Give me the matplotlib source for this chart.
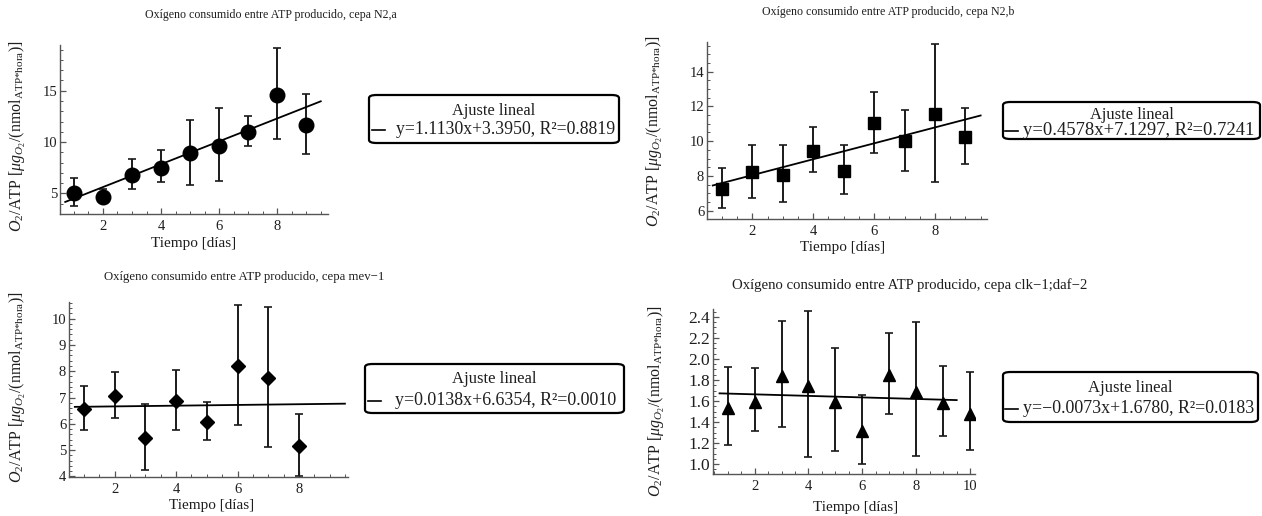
import numpy as np
import matplotlib
matplotlib.use("Agg")
import matplotlib.pyplot as plt
from matplotlib.ticker import MultipleLocator, FormatStrFormatter
from matplotlib.patches import FancyBboxPatch
from matplotlib.lines import Line2D

plt.rcParams['font.family'] = ['Liberation Serif', 'DejaVu Serif']
plt.rcParams['mathtext.fontset'] = 'custom'
plt.rcParams['mathtext.rm'] = 'Liberation Serif'
plt.rcParams['mathtext.it'] = 'Liberation Serif:italic'
plt.rcParams['mathtext.bf'] = 'Liberation Serif:bold'

# ---------------- data ----------------
# Panel 1: cepa N2,a
x_n2a = [1, 2, 3, 4, 5, 6, 7, 8, 9]
y_n2a = [5.03, 4.64, 6.78, 7.52, 8.92, 9.66, 10.99, 14.58, 11.63]
lo_n2a = [3.80, 4.06, 5.42, 6.07, 5.84, 6.17, 9.60, 10.27, 8.85]
hi_n2a = [6.52, 5.45, 8.33, 9.27, 12.15, 13.28, 12.57, 19.20, 14.68]
fit_n2a = (1.1130, 3.3950, 0.8819)

# Panel 2: cepa N2,b
x_n2b = [1, 2, 3, 4, 5, 6, 7, 8, 9]
y_n2b = [7.27, 8.20, 8.06, 9.44, 8.31, 11.02, 10.00, 11.59, 10.23]
lo_n2b = [6.18, 6.74, 6.49, 8.20, 6.97, 9.33, 8.27, 7.66, 8.66]
hi_n2b = [8.46, 9.77, 9.77, 10.79, 9.77, 12.82, 11.79, 15.59, 11.90]
fit_n2b = (0.4578, 7.1297, 0.7241)

# Panel 3: cepa mev-1
x_mev = [1, 2, 3, 4, 5, 6, 7, 8]
y_mev = [6.56, 7.05, 5.47, 6.87, 6.06, 8.19, 7.75, 5.16]
lo_mev = [5.76, 6.22, 4.24, 5.78, 5.39, 5.96, 5.13, 4.03]
hi_mev = [7.44, 7.97, 6.77, 8.06, 6.84, 10.53, 10.44, 6.39]
fit_mev = (0.0138, 6.6354, 0.0010)

# Panel 4: cepa clk-1;daf-2
x_clk = [1, 2, 3, 4, 5, 6, 7, 8, 9, 10]
y_clk = [1.53, 1.595, 1.84, 1.745, 1.59, 1.31, 1.85, 1.69, 1.58, 1.48]
lo_clk = [1.18, 1.31, 1.35, 1.07, 1.12, 1.00, 1.48, 1.08, 1.27, 1.13]
hi_clk = [1.92, 1.91, 2.36, 2.455, 2.105, 1.66, 2.245, 2.35, 1.93, 1.875]
fit_clk = (-0.0073, 1.6780, 0.0183)

titles = ["Oxígeno consumido entre ATP producido, cepa N2,a",
          "Oxígeno consumido entre ATP producido, cepa N2,b",
          "Oxígeno consumido entre ATP producido, cepa mev\u22121",
          "Oxígeno consumido entre ATP producido, cepa clk\u22121;daf\u22122"]
xlabel = "Tiempo [días]"
ylabel = r"$O_2$/ATP [$\mu g_{O_2}$/(nmol$_{\mathrm{ATP{*}hora}}$)]"
legend_title = "Ajuste lineal"

# ---------------- layout ----------------
W, H = 1262, 516
fig = plt.figure(figsize=(W / 100, H / 100), dpi=100)

def fx(px):
    return px / W

def fy(py):
    return 1 - py / H

TXT = '#1e1e1e'
AX = '#555555'

panels = [
    dict(x=x_n2a, y=y_n2a, lo=lo_n2a, hi=hi_n2a, fit=fit_n2a, marker='o', ms=10.5,
         box=(60, 45, 328, 214), xlim=(0.52, 9.75), ylim=(3.0, 19.45),
         ymaj=5, ymin=1, fmt='%d', ysz=10.5,
         title=(271, 15, 8.6), xl=(194, 243), yl=(18, 136),
         leg=(369, 95, 619, 143), leg1=115, leg2=134, dash=(372, 385), tx=396,
         lsz=12.8, tsz=11.8),
    dict(x=x_n2b, y=y_n2b, lo=lo_n2b, hi=hi_n2b, fit=fit_n2b, marker='s', ms=9,
         box=(707, 42, 987, 219), xlim=(0.51, 9.71), ylim=(5.52, 15.71),
         ymaj=2, ymin=0.5, fmt='%d', ysz=10.5,
         title=(888, 12, 8.6), xl=(843, 248), yl=(655, 131),
         leg=(1003, 102, 1260, 139), leg1=119, leg2=135, dash=(1005, 1018), tx=1023,
         lsz=13.4, tsz=11.9),
    dict(x=x_mev, y=y_mev, lo=lo_mev, hi=hi_mev, fit=fit_mev, marker='D', ms=7.5,
         box=(69, 302, 348, 477), xlim=(0.51, 9.60), ylim=(3.98, 10.63),
         ymaj=1, ymin=0.2, fmt='%d', ysz=10.5,
         title=(244, 277, 9.2), xl=(212, 505), yl=(18, 387),
         leg=(365, 364, 624, 413), leg1=383, leg2=405, dash=(368, 381), tx=395,
         lsz=12.9, tsz=12.0),
    dict(x=x_clk, y=y_clk, lo=lo_clk, hi=hi_clk, fit=fit_clk, marker='^', ms=9,
         box=(713, 309, 975, 474), xlim=(0.457, 10.18), ylim=(0.905, 2.476),
         ymaj=0.2, ymin=0.05, fmt='%.1f', ysz=12.5,
         title=(910, 285, 10.6), xl=(856, 508), yl=(657, 401),
         leg=(1003, 372, 1258, 422), leg1=392, leg2=413, dash=(1005, 1018), tx=1023,
         lsz=12.9, tsz=12.0),
]

for i, p in enumerate(panels):
    l, t, r, b = p['box']
    ax = fig.add_axes([fx(l), fy(b), (r - l) / W, (b - t) / H])
    ax.set_facecolor('none')
    x = np.array(p['x'], dtype=float)
    y = np.array(p['y'])
    lo = np.array(p['lo'])
    hi = np.array(p['hi'])
    ax.errorbar(x, y, yerr=[y - lo, hi - y], fmt='none', ecolor='#1a1a1a',
                elinewidth=1.4, capsize=2.6, capthick=1.2, zorder=2)
    ax.plot(x, y, linestyle='none', marker=p['marker'], ms=p['ms'],
            color='black', zorder=3)
    m, c, r2 = p['fit']
    xf = np.array([0.7, 9.5])
    ax.plot(xf, m * xf + c, color='black', lw=1.3, zorder=2.5)

    ax.set_xlim(*p['xlim'])
    ax.set_ylim(*p['ylim'])
    for s in ['top', 'right']:
        ax.spines[s].set_visible(False)
    for s in ['left', 'bottom']:
        ax.spines[s].set_color(AX)
        ax.spines[s].set_linewidth(1.0)
    ax.xaxis.set_major_locator(MultipleLocator(2))
    ax.xaxis.set_minor_locator(MultipleLocator(0.5))
    ax.yaxis.set_major_locator(MultipleLocator(p['ymaj']))
    ax.yaxis.set_minor_locator(MultipleLocator(p['ymin']))
    ax.yaxis.set_major_formatter(FormatStrFormatter(p['fmt']))
    ax.tick_params(which='both', direction='in', color=AX, labelcolor=TXT)
    ax.tick_params(axis='x', labelsize=10.5, pad=4)
    ax.tick_params(axis='y', labelsize=p['ysz'], pad=2)
    ax.tick_params(which='major', length=4.5, width=0.9)
    ax.tick_params(which='minor', length=2.5, width=0.7)

    tx_, ty_, ts = p['title']
    fig.text(fx(tx_), fy(ty_), titles[i], ha='center', va='center',
             fontsize=ts, color=TXT)
    fig.text(fx(p['xl'][0]), fy(p['xl'][1]), xlabel, ha='center', va='center',
             fontsize=11, color=TXT)
    fig.text(fx(p['yl'][0]), fy(p['yl'][1]), ylabel, ha='center', va='center',
             rotation=90, fontsize=11.5, color=TXT)

    # legend box
    L, T, R, B = p['leg']
    box = FancyBboxPatch((fx(L), fy(B)), (R - L) / W, (B - T) / H,
                         boxstyle='round,pad=0,rounding_size=0.006',
                         transform=fig.transFigure, facecolor='white',
                         edgecolor='black', linewidth=1.6)
    fig.add_artist(box)
    fig.text(fx((L + R) / 2), fy(p['leg1']), legend_title, ha='center',
             va='baseline', fontsize=p['tsz'], color=TXT)
    d0, d1 = p['dash']
    yd = p['leg2'] - 4.5
    fig.add_artist(Line2D([fx(d0), fx(d1)], [fy(yd), fy(yd)],
                          transform=fig.transFigure, color='black', lw=1.2))
    sign = '\u2212' if m < 0 else ''
    eq = f"y={sign}{abs(m):.4f}x+{c:.4f}, R\u00b2={r2:.4f}"
    fig.text(fx(p['tx']), fy(p['leg2']), eq, ha='left', va='baseline',
             fontsize=p['lsz'], color=TXT)

fig.savefig('out.png', dpi=100)
